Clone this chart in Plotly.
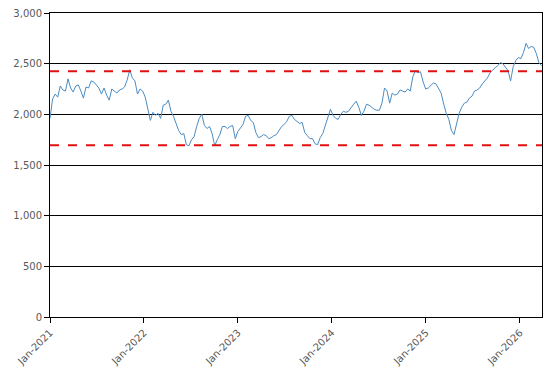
import pandas as pd
import plotly.graph_objects as go

start_date = "2021-01-01"
step_days = 10
values = [
    1960, 2150, 2200, 2170, 2280, 2240, 2230, 2350, 2260, 2220,
    2280, 2290, 2230, 2160, 2270, 2260, 2330, 2320, 2290, 2260,
    2200, 2260, 2190, 2140, 2250, 2230, 2210, 2240, 2250, 2270,
    2340, 2440, 2360, 2330, 2200, 2250, 2230, 2170, 2060, 1940,
    2020, 1990, 2010, 1960, 2090, 2100, 2140, 2030, 1980, 1910,
    1840, 1800, 1810, 1700, 1690, 1750, 1780, 1880, 1960, 2000,
    1890, 1860, 1880, 1810, 1690, 1750, 1800, 1880, 1880, 1860,
    1880, 1890, 1760, 1830, 1860, 1900, 1980, 1990, 1940, 1920,
    1820, 1770, 1780, 1800, 1790, 1760, 1770, 1790, 1800, 1840,
    1880, 1900, 1930, 1980, 1990, 1950, 1930, 1910, 1920, 1820,
    1790, 1760, 1760, 1710, 1700, 1770, 1810, 1890, 1950, 2050,
    1990, 1960, 1950, 2000, 2030, 2020, 2030, 2070, 2100, 2130,
    2070, 1990, 2030, 2100, 2090, 2070, 2050, 2040, 2040, 2110,
    2260, 2230, 2110, 2210, 2190, 2200, 2240, 2230, 2220, 2250,
    2230, 2370, 2430, 2410, 2420, 2320, 2250, 2260, 2290, 2310,
    2300, 2250, 2210, 2100, 2010, 1950, 1840, 1800, 1920, 2010,
    2070, 2110, 2120, 2160, 2180, 2230, 2240, 2260, 2300, 2330,
    2360, 2410, 2440, 2460, 2480, 2510, 2500, 2460, 2430, 2330,
    2470, 2530, 2560, 2550, 2610, 2700, 2650, 2670, 2660, 2600,
    2510, 2480,
]
dates = pd.date_range(start=start_date, periods=len(values), freq=f"{step_days}D")

band_levels = [2425, 1695]
y_ticks = [0, 500, 1000, 1500, 2000, 2500, 3000]
x_ticks = ["2021-01-01", "2022-01-01", "2023-01-01", "2024-01-01", "2025-01-01", "2026-01-01"]
x_range = ["2021-01-01", "2026-03-28"]

fig = go.Figure()
fig.add_trace(go.Scatter(
    x=dates, y=values, mode="lines",
    line=dict(color="#4a8cc4", width=1),
    showlegend=False, hoverinfo="x+y",
))
for lvl in band_levels:
    fig.add_trace(go.Scatter(
        x=x_range, y=[lvl, lvl], mode="lines",
        line=dict(color="#e01010", width=2, dash="dash"),
        showlegend=False, hoverinfo="skip",
    ))

font = dict(family="DejaVu Sans", size=10, color="#595959")
fig.update_layout(
    width=554, height=377,
    margin=dict(l=42, r=20, t=5, b=68),
    paper_bgcolor="white", plot_bgcolor="white",
    font=font,
)
fig.update_xaxes(
    range=x_range, tickvals=x_ticks, tickformat="%b-%Y", tickangle=-45,
    showgrid=False, showline=True, linecolor="black", linewidth=1, mirror=True,
    ticks="outside", ticklen=5, tickcolor="black", tickfont=font, automargin=False,
    ticklabeloverflow="allow",
)
fig.update_yaxes(
    range=[0, 3000], tickvals=y_ticks, tickformat=",",
    showgrid=True, gridcolor="black", gridwidth=1, zeroline=False,
    showline=True, linecolor="black", linewidth=1, mirror=True,
    ticks="outside", ticklen=5, tickcolor="black", tickfont=font, automargin=False,
    ticklabeloverflow="allow",
)
fig.write_html("out.html")
